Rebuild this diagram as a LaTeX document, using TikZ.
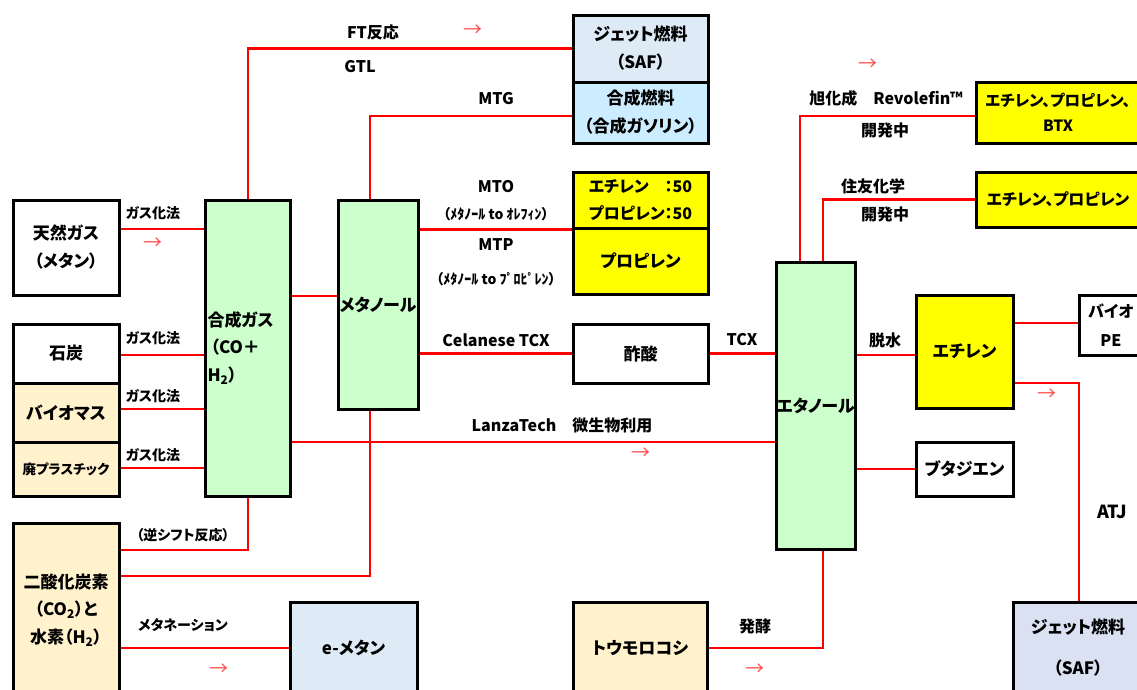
\documentclass[tikz,border=0pt]{standalone}
\usepackage{fontspec}
\newfontfamily\jp[RawFeature=+palt]{Noto Sans CJK JP}
\usetikzlibrary{backgrounds}
\definecolor{cgreen}{HTML}{CCFFCC}
\definecolor{ccream}{HTML}{FFF2CC}
\definecolor{cyel}{HTML}{FFFF00}
\definecolor{cjet}{HTML}{DEEBF7}
\definecolor{cgosei}{HTML}{CCECFF}
\definecolor{cjettwo}{HTML}{DAE1F3}
\definecolor{cred}{HTML}{FF0000}
\definecolor{carrow}{HTML}{FF4D4D}
\begin{document}
\begin{tikzpicture}[x=1pt,y=-1pt,
 box/.style={draw=black,line width=3pt,inner sep=0pt,align=center,font=\jp\bfseries\fontsize{17}{28}\selectfont},
 lbl/.style={inner sep=0pt,font=\jp\bfseries\fontsize{16}{20}\selectfont},
 slbl/.style={inner sep=0pt,font=\jp\bfseries\fontsize{14}{18}\selectfont},
 tlbl/.style={inner sep=0pt,font=\jp\bfseries\fontsize{14}{16}\selectfont},
 arw/.style={inner sep=0pt,text=carrow,font=\jp\fontsize{19}{20}\selectfont},
 conn/.style={draw=cred,line width=2.5pt},
]
\useasboundingbox (0,0) rectangle (1137,689);
\clip (0,0) rectangle (1137,689);

% boxes
\node[box,minimum width=106pt,minimum height=95pt] (tennen) at (66,247.5) {天然ガス\\（メタン）};
\node[box,minimum width=106pt,minimum height=59pt] (sekitan) at (66,353.5) {石炭};
\node[box,fill=ccream,minimum width=106pt,minimum height=59pt] (bio) at (66,412.5) {バイオマス};
\node[box,fill=ccream,minimum width=106pt,minimum height=54pt,font=\jp\bfseries\fontsize{13.5}{16}\selectfont] (haipura) at (66,469) {廃プラスチック};
\node[box,fill=ccream,minimum width=106pt,minimum height=174pt,font=\jp\bfseries\fontsize{17}{27.5}\selectfont] (co2) at (66,610) {二酸化炭素\\（CO\textsubscript{2}）と\\水素（H\textsubscript{2}）};
\node[box,fill=cgreen,minimum width=85pt,minimum height=296pt,text width=80pt,inner xsep=2.5pt,align=left,font=\jp\bfseries\fontsize{17}{27.5}\selectfont] (syngas) at (247.5,348) {合成ガス\\\hspace*{3pt}（CO＋\\H\textsubscript{2}）};
\node[box,fill=cgreen,minimum width=80pt,minimum height=209pt] (meoh) at (378,304.5) {メタノール};
\node[box,fill=cjet,minimum width=127pt,minimum height=92pt] (emethan) at (353.5,648) {e-メタン};
\node[box,fill=cjet,minimum width=135pt,minimum height=67pt] (jet1) at (640.5,48.5) {ジェット燃料\\（SAF）};
\node[box,fill=cgosei,minimum width=135pt,minimum height=61pt] (gosei) at (640.5,112.5) {合成燃料\\（合成ガソリン）};
\node[box,fill=cyel,minimum width=135pt,minimum height=56pt,font=\jp\bfseries\fontsize{16}{27}\selectfont] (mto) at (640.5,200) {エチレン　：50\\プロピレン：50};
\node[box,fill=cyel,minimum width=135pt,minimum height=66pt] (mtp) at (640.5,261) {プロピレン};
\node[box,minimum width=135pt,minimum height=59pt] (sakusan) at (640.5,353.5) {酢酸};
\node[box,fill=ccream,minimum width=134pt,minimum height=92pt] (corn) at (640,648) {トウモロコシ};
\node[box,fill=cgreen,minimum width=79pt,minimum height=287pt] (etoh) at (815.5,405.5) {エタノール};
\node[box,fill=cyel,minimum width=164pt,minimum height=61pt,font=\jp\bfseries\fontsize{15.5}{25}\selectfont] (asahi) at (1058,112.5) {エチレン、プロピレン、\\BTX};
\node[box,fill=cyel,minimum width=164pt,minimum height=55pt,font=\jp\bfseries\fontsize{16}{25}\selectfont] (sumitomo) at (1058,199.5) {エチレン、プロピレン};
\node[box,fill=cyel,minimum width=97pt,minimum height=113pt] (ethylene) at (964.5,351.5) {エチレン};
\node[box,minimum width=64pt,minimum height=60pt,font=\jp\bfseries\fontsize{16}{29}\selectfont] (biope) at (1111,325) {バイオ\\PE};
\node[box,minimum width=97pt,minimum height=54pt] (butadiene) at (964.5,469) {ブタジエン};
\node[box,fill=cjettwo,minimum width=130pt,minimum height=91pt] (jet2) at (1078,647.5) {ジェット燃料\\[13pt]（SAF）};

% connectors
\begin{scope}[on background layer]
\draw[conn] (tennen.east |- 0,229) -- (syngas.west |- 0,229);
\draw[conn] (sekitan.east |- 0,355) -- (syngas.west |- 0,355);
\draw[conn] (bio.east |- 0,409) -- (syngas.west |- 0,409);
\draw[conn] (haipura.east |- 0,468) -- (syngas.west |- 0,468);
\draw[conn] (syngas.east |- 0,296) -- (meoh.west |- 0,296);
\draw[conn] (syngas.north -| 248,0) |- (jet1.west);
\draw[conn] (meoh.north -| 370,0) |- (gosei.west |- 0,116);
\draw[conn] (meoh.east |- mto.south west) -- (mto.south west);
\draw[conn] (meoh.east |- sakusan.west) -- (sakusan.west);
\draw[conn] (sakusan.east) -- (etoh.west |- sakusan.east);
\draw[conn] (syngas.east |- 0,442) -- (etoh.west |- 0,442);
\draw[conn] (co2.east |- 0,550) -| (syngas.south -| 248,0);
\draw[conn] (co2.east |- 0,576) -| (meoh.south -| 370,0);
\draw[conn] (co2.east |- emethan.west) -- (emethan.west);
\draw[conn] (corn.east |- 0,648) -| (etoh.south -| 823,0);
\draw[conn] (etoh.north -| 800,0) |- (asahi.west |- 0,116);
\draw[conn] (etoh.north -| 823,0) |- (sumitomo.west);
\draw[conn] (etoh.east |- 0,355) -- (ethylene.west |- 0,355);
\draw[conn] (etoh.east |- butadiene.west) -- (butadiene.west);
\draw[conn] (ethylene.east |- 0,323) -- (biope.west |- 0,323);
\draw[conn] (ethylene.east |- 0,383) -| (jet2.north -| 1079,0);
\end{scope}

% labels
\node[slbl] (g1) at (153,213) {ガス化法};
\node[slbl] (g2) at (153,338) {ガス化法};
\node[slbl] (g3) at (153,396) {ガス化法};
\node[slbl] (g4) at (153,455) {ガス化法};
\node[slbl] (rws) at (183,535) {（逆シフト反応）};
\node[slbl] (mtn) at (183,625) {メタネーション};
\node[lbl] (ft) at (373,32) {FT反応};
\node[lbl] (gtl) at (360,67) {GTL};
\node[lbl] (mtg) at (496,99) {MTG};
\node[lbl] (mtol) at (496,187) {MTO};
\node[tlbl] (mtos) at (496,214) {（ﾒﾀﾉｰﾙ to ｵﾚﾌｨﾝ）};
\node[lbl] (mtpl) at (496,245) {MTP};
\node[tlbl] (mtps) at (496,279) {（ﾒﾀﾉｰﾙ to ﾌﾟﾛﾋﾟﾚﾝ）};
\node[lbl] (cel) at (496,340) {Celanese TCX};
\node[lbl] (tcx) at (742,340) {TCX};
\node[lbl] (lanza) at (562,425) {LanzaTech　微生物利用};
\node[lbl] (asahil) at (886,98) {旭化成　Revolefin™};
\node[lbl] (dev1) at (885,130) {開発中};
\node[lbl] (sumil) at (873,186) {住友化学};
\node[lbl] (dev2) at (885,214) {開発中};
\node[lbl] (dehyd) at (885,340) {脱水};
\node[inner sep=0pt,font=\jp\bfseries\fontsize{18}{20}\selectfont] (atj) at (1112,512) {ATJ};
\node[lbl] (ferm) at (755,626) {発酵};

% small arrows
\node[arw] (a1) at (153,244) {→};
\node[arw] (a2) at (473,31) {→};
\node[arw] (a3) at (868,65) {→};
\node[arw] (a4) at (641,454) {→};
\node[arw] (a5) at (1047,395) {→};
\node[arw] (a6) at (219,670) {→};
\node[arw] (a7) at (755,670) {→};
\end{tikzpicture}
\end{document}
